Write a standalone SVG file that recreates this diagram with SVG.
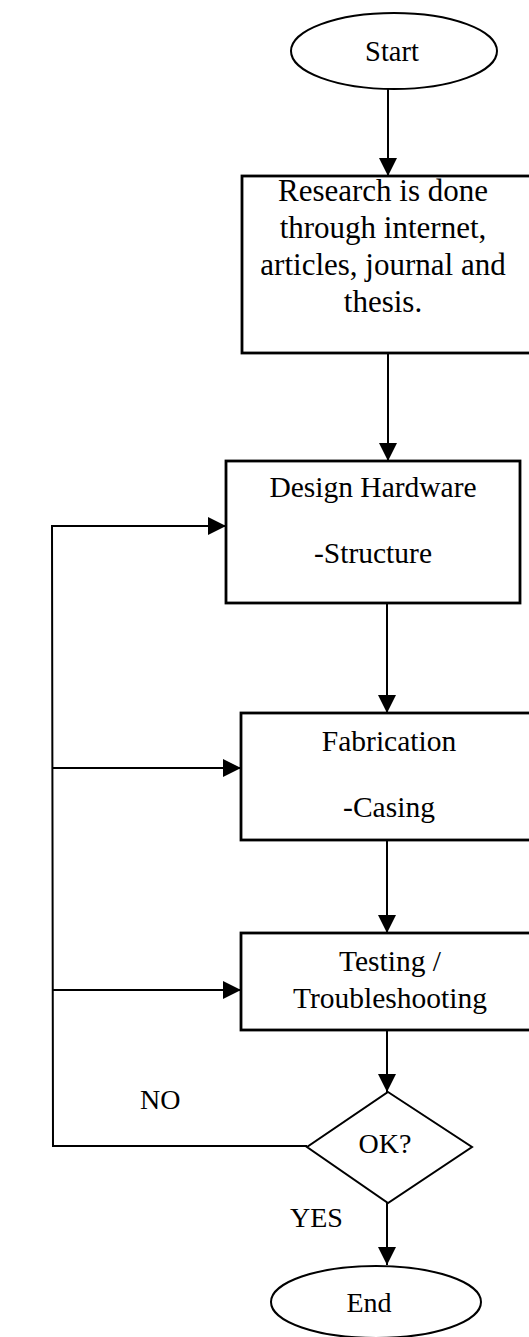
<svg xmlns="http://www.w3.org/2000/svg" width="529" height="1337" viewBox="0 0 529 1337">
<style>
.box{fill:#fff;stroke:#000;stroke-width:2.8}
.term{fill:#fff;stroke:#000;stroke-width:2}
.t{font-family:"Liberation Serif","Times New Roman",serif;font-size:29.5px;fill:#000;text-anchor:middle}
.lbl{font-family:"Liberation Serif","Times New Roman",serif;font-size:28px;fill:#000}
.c{fill:none;stroke:#000;stroke-width:2}
</style>
<defs>
<marker id="ah" markerWidth="18" markerHeight="18" refX="18" refY="9" orient="auto" markerUnits="userSpaceOnUse">
<path d="M0,0 L18,9 L0,18 z" fill="#000"/>
</marker>
</defs>
<rect width="529" height="1337" fill="#fff"/>
<g id="connectors">
<line class="c" x1="388" y1="89" x2="388" y2="176" marker-end="url(#ah)"/>
<line class="c" x1="388" y1="353" x2="388" y2="461" marker-end="url(#ah)"/>
<line class="c" x1="387" y1="603" x2="387" y2="713" marker-end="url(#ah)"/>
<line class="c" x1="387" y1="840" x2="387" y2="933" marker-end="url(#ah)"/>
<line class="c" x1="387" y1="1030" x2="387" y2="1092" marker-end="url(#ah)"/>
<line class="c" x1="387" y1="1203" x2="387" y2="1265" marker-end="url(#ah)"/>
<polyline class="c" points="307,1146 53,1146 52,526 226,526" marker-end="url(#ah)"/>
<line class="c" x1="52" y1="768" x2="241" y2="768" marker-end="url(#ah)"/>
<line class="c" x1="53" y1="990" x2="241" y2="990" marker-end="url(#ah)"/>
<text class="lbl" x="140" y="1109">NO</text>
<text class="lbl" x="290" y="1227">YES</text>
</g>
<g id="start">
<ellipse class="term" cx="394" cy="51" rx="103" ry="38"/>
<text class="t" x="392" y="61" style="font-size:28.5px">Start</text>
</g>
<g id="research">
<rect class="box" x="242" y="176" width="300" height="177"/>
<text class="t" x="383" y="201" style="font-size:31px">Research is done</text>
<text class="t" x="383" y="238" style="font-size:31px">through internet,</text>
<text class="t" x="383" y="275" style="font-size:31px">articles, journal and</text>
<text class="t" x="383" y="312" style="font-size:31px">thesis.</text>
</g>
<g id="design">
<rect class="box" x="226" y="461" width="294" height="142"/>
<text class="t" x="373" y="497">Design Hardware</text>
<text class="t" x="373" y="563">-Structure</text>
</g>
<g id="fabrication">
<rect class="box" x="241" y="713" width="300" height="127"/>
<text class="t" x="389" y="751">Fabrication</text>
<text class="t" x="389" y="817">-Casing</text>
</g>
<g id="testing">
<rect class="box" x="241" y="933" width="300" height="97"/>
<text class="t" x="390" y="971">Testing /</text>
<text class="t" x="390" y="1008">Troubleshooting</text>
</g>
<g id="ok">
<polygon class="term" points="388,1092 472,1147 388,1203 307,1147"/>
<text class="t" x="385" y="1153" style="font-size:28px">OK?</text>
</g>
<g id="end">
<ellipse class="term" cx="376" cy="1302" rx="105" ry="36"/>
<text class="t" x="369" y="1312" style="font-size:28px">End</text>
</g>
</svg>
